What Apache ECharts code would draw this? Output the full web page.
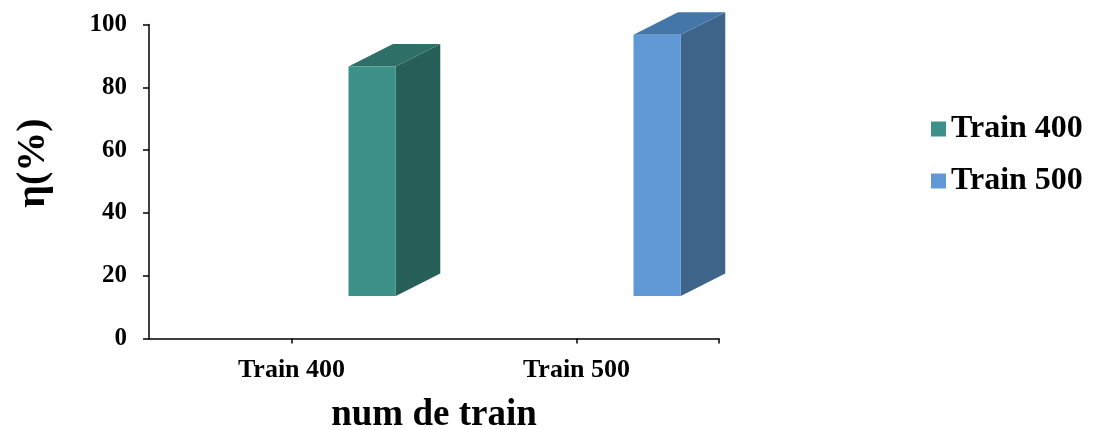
<!DOCTYPE html>
<html>
<head>
<meta charset="utf-8">
<title>num de train</title>
<script src="https://cdn.jsdelivr.net/npm/echarts@6/dist/echarts.min.js"></script>
<style>
  html, body { margin: 0; padding: 0; background: #ffffff; }
  #chart { width: 1094px; height: 430px; }
</style>
</head>
<body>
<div id="chart"></div>
<script>
// Data
const categories = ['Train 400', 'Train 500'];
const seriesNames = ['Train 400', 'Train 500'];
const efficiency = [86.6, 96.7];          // η (%) per train
const yTicks = { min: 0, max: 100, interval: 20 };

// Styling
const FONT = "'Liberation Serif', 'Times New Roman', serif";
const FLOOR = 13.5;                        // level of the 3D floor the columns stand on
const faces = [
  { front: '#3d9189', side: '#265f58', top: '#2e6f67' },
  { front: '#6198d6', side: '#3e6489', top: '#4576a9' }
];
const GRID = { left: 149, top: 24.5, width: 570, height: 314 };

const chart = echarts.init(document.getElementById('chart'), null, { renderer: 'canvas' });

function makeRender(style) {
  return function (params, api) {
    const cat = api.value(0);
    const v = api.value(1);
    const top = api.coord([cat, v]);
    const base = api.coord([cat, FLOOR]);
    const band = api.size([1, 0])[0];
    const x0 = top[0] + band * 0.2;
    const w = band * 0.166;
    const dx = band * 0.156;
    const dy = band * 0.0795;
    const yt = top[1], yb = base[1];
    return {
      type: 'group',
      children: [
        {
          type: 'polygon',
          shape: { points: [[x0 + w, yt], [x0 + w + dx, yt - dy], [x0 + w + dx, yb - dy], [x0 + w, yb]] },
          style: { fill: style.side }
        },
        {
          type: 'polygon',
          shape: { points: [[x0, yt], [x0 + dx, yt - dy], [x0 + w + dx, yt - dy], [x0 + w, yt]] },
          style: { fill: style.top }
        },
        {
          type: 'rect',
          shape: { x: x0, y: yt, width: w, height: yb - yt },
          style: { fill: style.front }
        }
      ]
    };
  };
}

const series = seriesNames.map((name, i) => ({
  name: name,
  type: 'custom',
  clip: false,
  itemStyle: { color: faces[i].front },
  renderItem: makeRender(faces[i]),
  data: [[i, efficiency[i]]]
}));

chart.setOption({
  animation: false,
  backgroundColor: '#ffffff',
  grid: Object.assign({ containLabel: false, outerBoundsMode: 'none' }, GRID),
  legend: {
    orient: 'vertical',
    left: 931,
    top: 113,
    padding: 0,
    itemWidth: 15,
    itemHeight: 15,
    itemGap: 20,
    icon: 'rect',
    data: seriesNames,
    textStyle: { fontFamily: FONT, fontWeight: 'bold', fontSize: 32, color: '#000' }
  },
  xAxis: {
    type: 'category',
    data: categories,
    boundaryGap: true,
    name: 'num de train',
    nameLocation: 'middle',
    nameGap: 58,
    nameTextStyle: { fontFamily: FONT, fontWeight: 'bold', fontSize: 37, color: '#000' },
    axisLine: { show: true, lineStyle: { color: '#000', width: 1.5 } },
    axisTick: { show: true, alignWithLabel: true, length: 5, lineStyle: { color: '#000', width: 1.5 } },
    axisLabel: { fontFamily: FONT, fontWeight: 'bold', fontSize: 26, color: '#000', margin: 19 },
    splitLine: { show: false }
  },
  yAxis: {
    type: 'value',
    min: yTicks.min,
    max: yTicks.max,
    interval: yTicks.interval,
    axisLine: { show: true, lineStyle: { color: '#000', width: 1.5 } },
    axisTick: { show: true, length: 6, lineStyle: { color: '#000', width: 1.5 } },
    axisLabel: { fontFamily: FONT, fontWeight: 'bold', fontSize: 25, color: '#000', margin: 22 },
    splitLine: { show: false }
  },
  graphic: [
    {
      type: 'text',
      x: 34,
      y: 163,
      rotation: Math.PI / 2,
      style: {
        text: 'η(%)',
        fontFamily: FONT,
        fontWeight: 'bold',
        fontSize: 40,
        fill: '#000',
        align: 'center',
        verticalAlign: 'middle'
      }
    },
    {
      // closing tick at the right end of the category axis
      type: 'line',
      shape: {
        x1: GRID.left + GRID.width, y1: GRID.top + GRID.height,
        x2: GRID.left + GRID.width, y2: GRID.top + GRID.height + 5
      },
      style: { stroke: '#000', lineWidth: 1.5 }
    }
  ],
  series: series
});
</script>
</body>
</html>
